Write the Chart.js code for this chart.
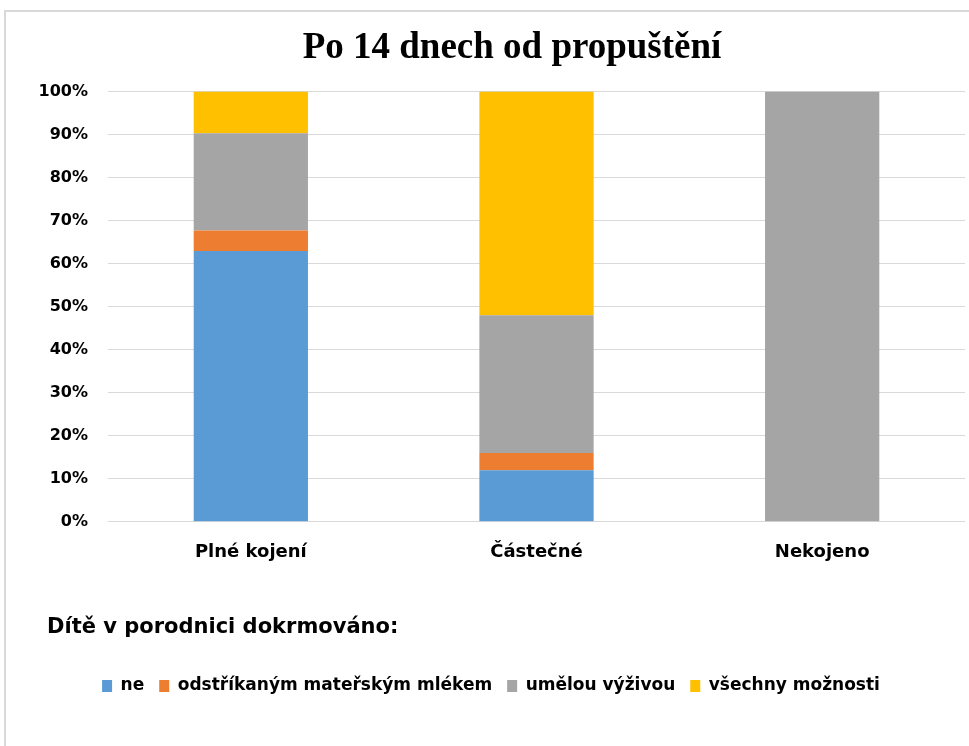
<!DOCTYPE html>
<html>
<head>
<meta charset="utf-8">
<script src="https://cdn.jsdelivr.net/npm/chart.js@4.4.0/dist/chart.umd.min.js"></script>
<style>
    body{margin:0;background:#fff;overflow:hidden;}
    #frame{position:absolute;left:4px;top:10px;width:1000px;height:800px;border:2px solid #d9d9d9;}
    #myChart{position:absolute;left:0;top:0;}
</style>
</head>
<body>
<div id="frame"></div>
<canvas id="myChart" width="969" height="746"></canvas>
<script>
// categories and values (percent)
const categories=['Plné kojení','Částečné','Nekojeno'];
const ne=[62.9,12,0];
const odstrikanym=[4.8,4,0];
const umelou=[22.6,32,100];
const vsechny=[9.7,52,0];
const yTicks=[0,10,20,30,40,50,60,70,80,90,100];
const subtitleText='Dítě v porodnici dokrmováno:';

const font='"DejaVu Sans"';

// nudge the title, subtitle and legend blocks a little, like in the original
const shiftTitles={
    id:'shiftTitles',
    afterLayout:function(chart){
        if(chart.titleBlock){
            chart.titleBlock.left+=22;
        }
        if(chart.legend){
            chart.legend.left-=10;
            chart.legend.right-=10;
        }
        chart.boxes.forEach(function(box){
            if(box.options&&box.options.text===subtitleText){
                box.left+=10;
            }
        });
    }
};

const ctx=document.getElementById('myChart').getContext('2d');
let chart=new Chart(ctx,{
    type:'bar',
    data:{
        labels:categories,
        datasets:[
            {label:'ne',data:ne,backgroundColor:'#5B9BD5'},
            {label:'odstříkaným mateřským mlékem',data:odstrikanym,backgroundColor:'#ED7D31'},
            {label:'umělou výživou',data:umelou,backgroundColor:'#A5A5A5'},
            {label:'všechny možnosti',data:vsechny,backgroundColor:'#FFC000'}
        ]
    },
    plugins:[shiftTitles],
    options:{
        responsive:false,
        animation:false,
        barPercentage:0.4,
        categoryPercentage:1,
        layout:{padding:{left:37,right:4,top:10,bottom:41.5}},
        plugins:{
            title:{
                display:true,
                text:'Po 14 dnech od propuštění',
                color:'#000',
                font:{family:'"Liberation Serif"',size:37,weight:'bold'},
                padding:{top:16,bottom:21}
            },
            subtitle:{
                display:true,
                text:subtitleText,
                position:'bottom',
                align:'start',
                weight:500,
                color:'#000',
                font:{family:font,size:21,weight:'bold'},
                padding:{top:32,bottom:21.9}
            },
            legend:{
                position:'bottom',
                labels:{
                    color:'#000',
                    boxWidth:10,
                    boxHeight:12,
                    padding:15,
                    font:{family:font,size:17,weight:'bold'}
                }
            },
            tooltip:{enabled:false}
        },
        scales:{
            x:{
                stacked:true,
                grid:{display:false,drawTicks:false},
                border:{display:false},
                ticks:{color:'#000',padding:20,font:{family:font,size:18,weight:'bold'}}
            },
            y:{
                stacked:true,
                min:0,
                max:100,
                afterBuildTicks:function(scale){
                    scale.ticks=yTicks.map(v=>({value:v}));
                },
                afterFit:function(scale){
                    scale.width=71;
                },
                grid:{color:'#d9d9d9',drawTicks:false},
                border:{display:false},
                ticks:{
                    color:'#000',
                    padding:20,
                    font:{family:font,size:16,weight:'bold'},
                    callback:function(v){return v+'%';}
                }
            }
        }
    }
});
</script>
</body>
</html>
